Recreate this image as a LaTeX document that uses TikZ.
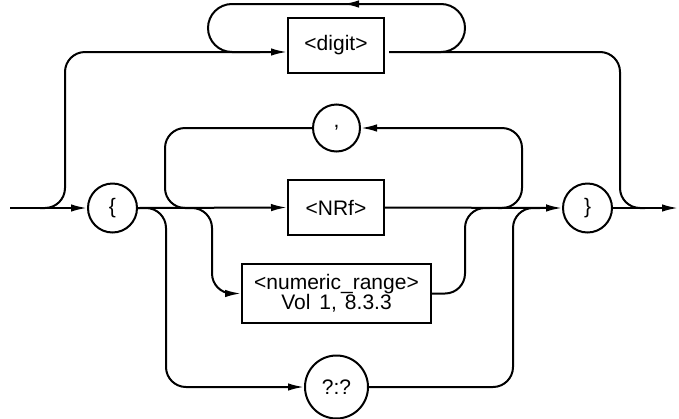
\documentclass[tikz,border=0pt]{standalone}
\usepackage{fontspec}
\setmainfont{Liberation Sans}
\usetikzlibrary{arrows.meta}
\begin{document}
\begin{tikzpicture}[x=1pt,y=-1pt,
  line width=2pt,
  every node/.style={font=\fontsize{21}{20}\selectfont, inner sep=0pt},
  term/.style={draw, circle, minimum size=#1},
  nonterm/.style={draw, rectangle, minimum width=96pt, minimum height=55pt},
  arr/.style={-{Latex[length=16pt,width=7.5pt]}},
  rc/.style={rounded corners=20pt}]
\useasboundingbox (0,0) rectangle (679,418);

% nodes
\node[term=49pt] (lb) at (112.5,208) {\{};
\node[term=49pt] (rb) at (587.5,208) {\}};
\node[nonterm] (digit) at (336,45.5) {<digit>};
\node[term=47pt] (comma) at (336.5,128) {,};
\node[nonterm] (nrf) at (336,207.5) {<NRf>};
\node[draw, rectangle, minimum width=189pt, minimum height=59pt, align=center]
  (num) at (336.5,293.5) {<numeric\_range>\\Vol\hspace{9pt}1,\hspace{8pt}8.3.3};
\node[term=63pt] (q) at (336.5,387) {?:?};

\coordinate (start) at (10,208);
\coordinate (end) at (678,208);

% main line
\draw[arr] (start) -- (lb.west);
\draw[arr] (lb.east) -- (nrf.west);
\draw[arr] (nrf.east) -- (rb.west);
\draw[arr] (rb.east) -- (end);

% bypass through <digit>
\draw[rc,arr] (40,208) -| (65,52) -- ([yshift=-6.5pt]digit.west);
\draw[rc] ([xshift=4pt,yshift=-6.5pt]digit.east) -| (620,208) -- (645,208);
% digit repetition loop
\draw[rounded corners=24pt,arr] (420,52) -| (465,4) -- (343,4);
\draw[rounded corners=24pt] (350,4) -| (208,52) -- (260,52);

% comma loop
\draw[rc,arr] (498,208) -| (522,128) -- (comma.east);
\draw[rc] (comma.west) -| (165,208) -- (190,208);

% numeric_range branch
\draw[rc,arr] (190,208) -| ([xshift=-29pt]num.west) -- (num.west);
\draw[rc] (num.east) -| (465,208) -- (490,208);

% ?:? branch
\draw[rc,arr] (lb.east) -| ([xshift=-138pt]q.west) -- (q.west);
\draw[rc] (q.east) -| (513,208) -- (540,208);
\end{tikzpicture}
\end{document}
